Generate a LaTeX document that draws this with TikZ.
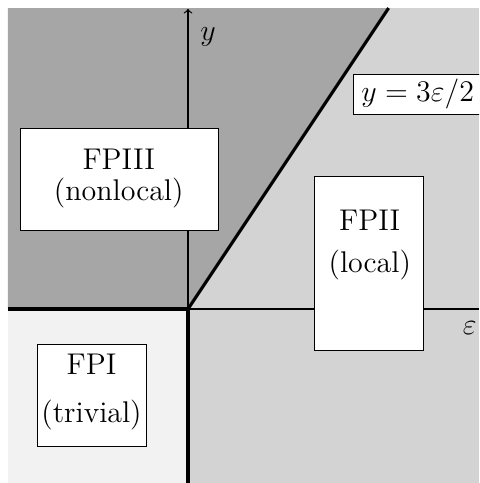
\documentclass[tikz,border=0pt]{standalone}
\usepackage{amsmath}
\usepackage{amssymb}
\usepackage{xcolor}
\usetikzlibrary{positioning,arrows}
\definecolor{nonlocalgray}{RGB}{166,166,166}
\definecolor{localgray}{RGB}{211,211,211}
\definecolor{trivialgray}{RGB}{242,242,242}

\begin{document}
\begin{tikzpicture}[font=\Large]
    \tikzstyle{regionbox} = [rectangle, draw=black, fill=white, minimum width=1.84cm, minimum height=1.72cm]
    \tikzstyle{regiontext} = [align=center, inner sep=0pt]
    \tikzstyle{boundary} = [line width=1.5pt]
    \tikzstyle{axis} = [line width=0.6pt]

    \clip (-3.176,-2.939) rectangle (4.916,5.22);
    \coordinate (origin) at (0,0);
    \coordinate (topleft) at (-3.041,5.084);
    \coordinate (topright) at (4.916,5.084);
    \coordinate (bottomleft) at (-3.041,-2.939);
    \coordinate (linetop) at (3.389,5.084);
    \coordinate (left) at (-3.041,0);
    \coordinate (right) at (4.916,0);
    \coordinate (bottom) at (0,-2.939);
    \coordinate (top) at (0,5.07);

    \fill [localgray] (bottomleft) rectangle (topright);
    \fill [trivialgray] (bottomleft) rectangle (origin);
    \fill [nonlocalgray] (left) -- (topleft) -- (linetop) -- (origin) -- cycle;

    \draw [axis, ->] (bottom) -- (top);
    \draw [axis] (origin) -- (right);
    \draw [boundary] (left) -- (origin) -- (bottom);
    \draw [boundary] (origin) -- (linetop);

    \node (ylabel) at (0.34,4.59) {$y$};
    \node (epslabel) at (4.76,-0.32) {$\varepsilon$};

    \node [regionbox, minimum width=3.345cm] (fpiiibox) at (-1.166,2.196) {};
    \node [regiontext] (fpiii) at (-1.17,2.21) {FPIII\\[-3pt](nonlocal)};
    \node [regionbox, minimum height=2.94cm] (fpiibox) at (3.049,0.777) {};
    \node [regiontext] (fpii) at (3.07,1.08) {FPII\\[2pt](local)};
    \node [regionbox] (fpibox) at (-1.63,-1.453) {};
    \node [regiontext] (fpi) at (-1.63,-1.40) {FPI\\[5pt](trivial)};
    \node [draw, fill=white, inner sep=2.4pt, minimum width=2.17cm, anchor=west] (linelabel) at (2.787,3.63) {$y=3\varepsilon/2$};
\end{tikzpicture}
\end{document}
